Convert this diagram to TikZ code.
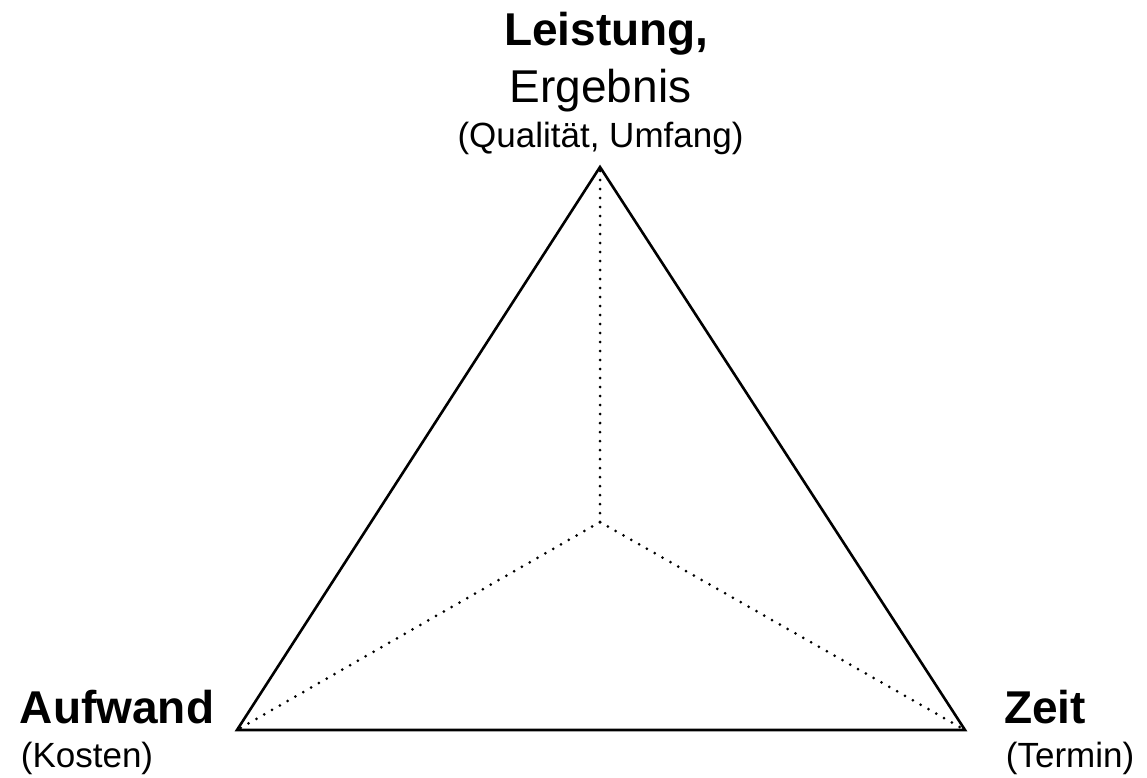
\documentclass[tikz,border=0pt]{standalone}
\usepackage{fontspec}
\setmainfont{Liberation Sans}
\begin{document}
\begin{tikzpicture}[x=1pt,y=-1pt,
  big/.style={inner sep=0pt,anchor=base,font=\fontsize{46}{55}\selectfont},
  bigb/.style={big,font=\fontsize{46}{55}\selectfont\bfseries},
  small/.style={inner sep=0pt,anchor=base,font=\fontsize{35}{42}\selectfont},
  edge/.style={line width=2.6pt,line join=miter},
  dots/.style={line width=3pt,line cap=round,dash pattern=on 0pt off 9pt}]
\useasboundingbox (0,0) rectangle (1147,777);
\coordinate (T) at (600,167);
\coordinate (L) at (237,730);
\coordinate (R) at (965,730);
\coordinate (C) at (600,522);
\draw[dots] (C) -- (T);
\draw[dots] (C) -- (L);
\draw[dots] (C) -- (R);
\draw[edge] (T) -- (L) -- (R) -- cycle;
\node[bigb] (l1) at (606.5,45) {Leistung,};
\node[big] (l2) at (600.5,102) {Ergebnis};
\node[small] (l3) at (600.5,147) {(Qualität, Umfang)};
\node[bigb] (a1) at (117,723) {Aufwand};
\node[small] (a2) at (87,767) {(Kosten)};
\node[bigb] (z1) at (1045,723) {Zeit};
\node[small] (z2) at (1070,767) {(Termin)};
\end{tikzpicture}
\end{document}
